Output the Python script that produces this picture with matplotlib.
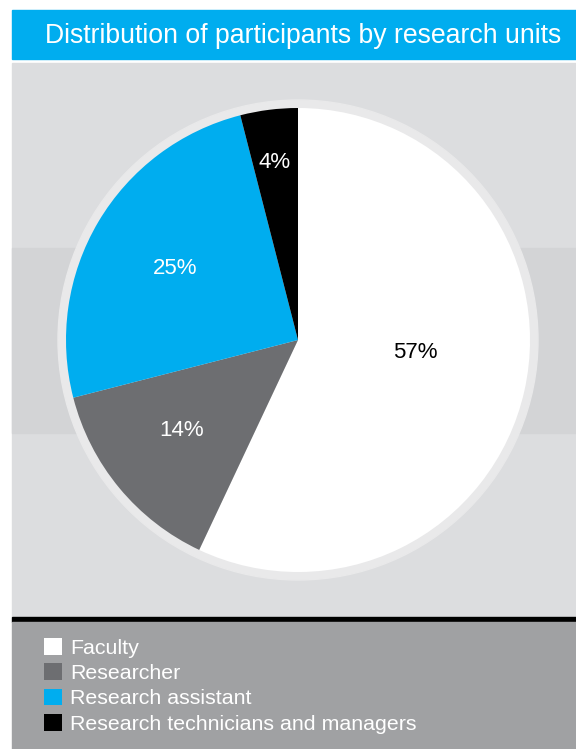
import matplotlib
matplotlib.use("Agg")
import matplotlib.pyplot as plt
from matplotlib.patches import Rectangle, Circle

plt.rcParams['font.family'] = ['Liberation Sans', 'DejaVu Sans']

titulo = "Distribution of participants by research units"
categorias = ["Faculty", "Researcher", "Research assistant",
              "Research technicians and managers"]
percentuais = [57, 14, 25, 4]
cores = ["#ffffff", "#6d6e71", "#00adef", "#000000"]
cores_rotulos = ["#000000", "#ffffff", "#ffffff", "#ffffff"]

W, H = 576, 749
fig = plt.figure(figsize=(W / 100, H / 100), dpi=100)
ax = fig.add_axes([0, 0, 1, 1])

# fundo (coordenadas em pixels, y de baixo para cima)
ax.add_patch(Rectangle((0, 0), W, H, color="white", zorder=0))
ax.add_patch(Rectangle((12, H - 59), W - 12, 49, color="#00adef", zorder=1))
ax.add_patch(Rectangle((12, H - 617), W - 12, 554, color="#dcdddf", zorder=1))
ax.add_patch(Rectangle((12, H - 433), W - 12, 185, color="#d3d4d6", zorder=1))
ax.add_patch(Rectangle((12, H - 622), W - 12, 5, color="#000000", zorder=1))
ax.add_patch(Rectangle((12, 0), W - 12, H - 622, color="#a0a1a3", zorder=1))

ax.text(45, H - 36, titulo, color="white", fontsize=19.2, va="center", ha="left", zorder=3)

# pizza
cx, cy, r = 298, H - 340, 232
ax.add_patch(Circle((cx, cy), r + 8, color="#e9e9ea", zorder=2))
fatias, textos = ax.pie(percentuais, colors=cores, startangle=90, counterclock=False,
                        center=(cx, cy), radius=r, frame=True,
                        labels=None, wedgeprops=dict(linewidth=0))
for f in fatias:
    f.set_zorder(3)

posicoes = [(415, 352), (182, 430), (175, 268), (275, 162)]
for pct, (x, y), c in zip(percentuais, posicoes, cores_rotulos):
    ax.text(x, H - y, f"{pct}%", color=c, fontsize=16, ha="center", va="center", zorder=4)

leg = ax.legend(fatias, categorias, loc="upper left", bbox_to_anchor=(44, H - 638),
                bbox_transform=ax.transData, frameon=False, fontsize=15.4,
                labelcolor="white", handlelength=0.82, handleheight=0.82,
                handletextpad=0.4, labelspacing=0.26, borderpad=0, borderaxespad=0)
leg.set_zorder(5)

ax.set_xlim(0, W)
ax.set_ylim(0, H)
ax.axis("off")

fig.savefig("out.png", dpi=100)
